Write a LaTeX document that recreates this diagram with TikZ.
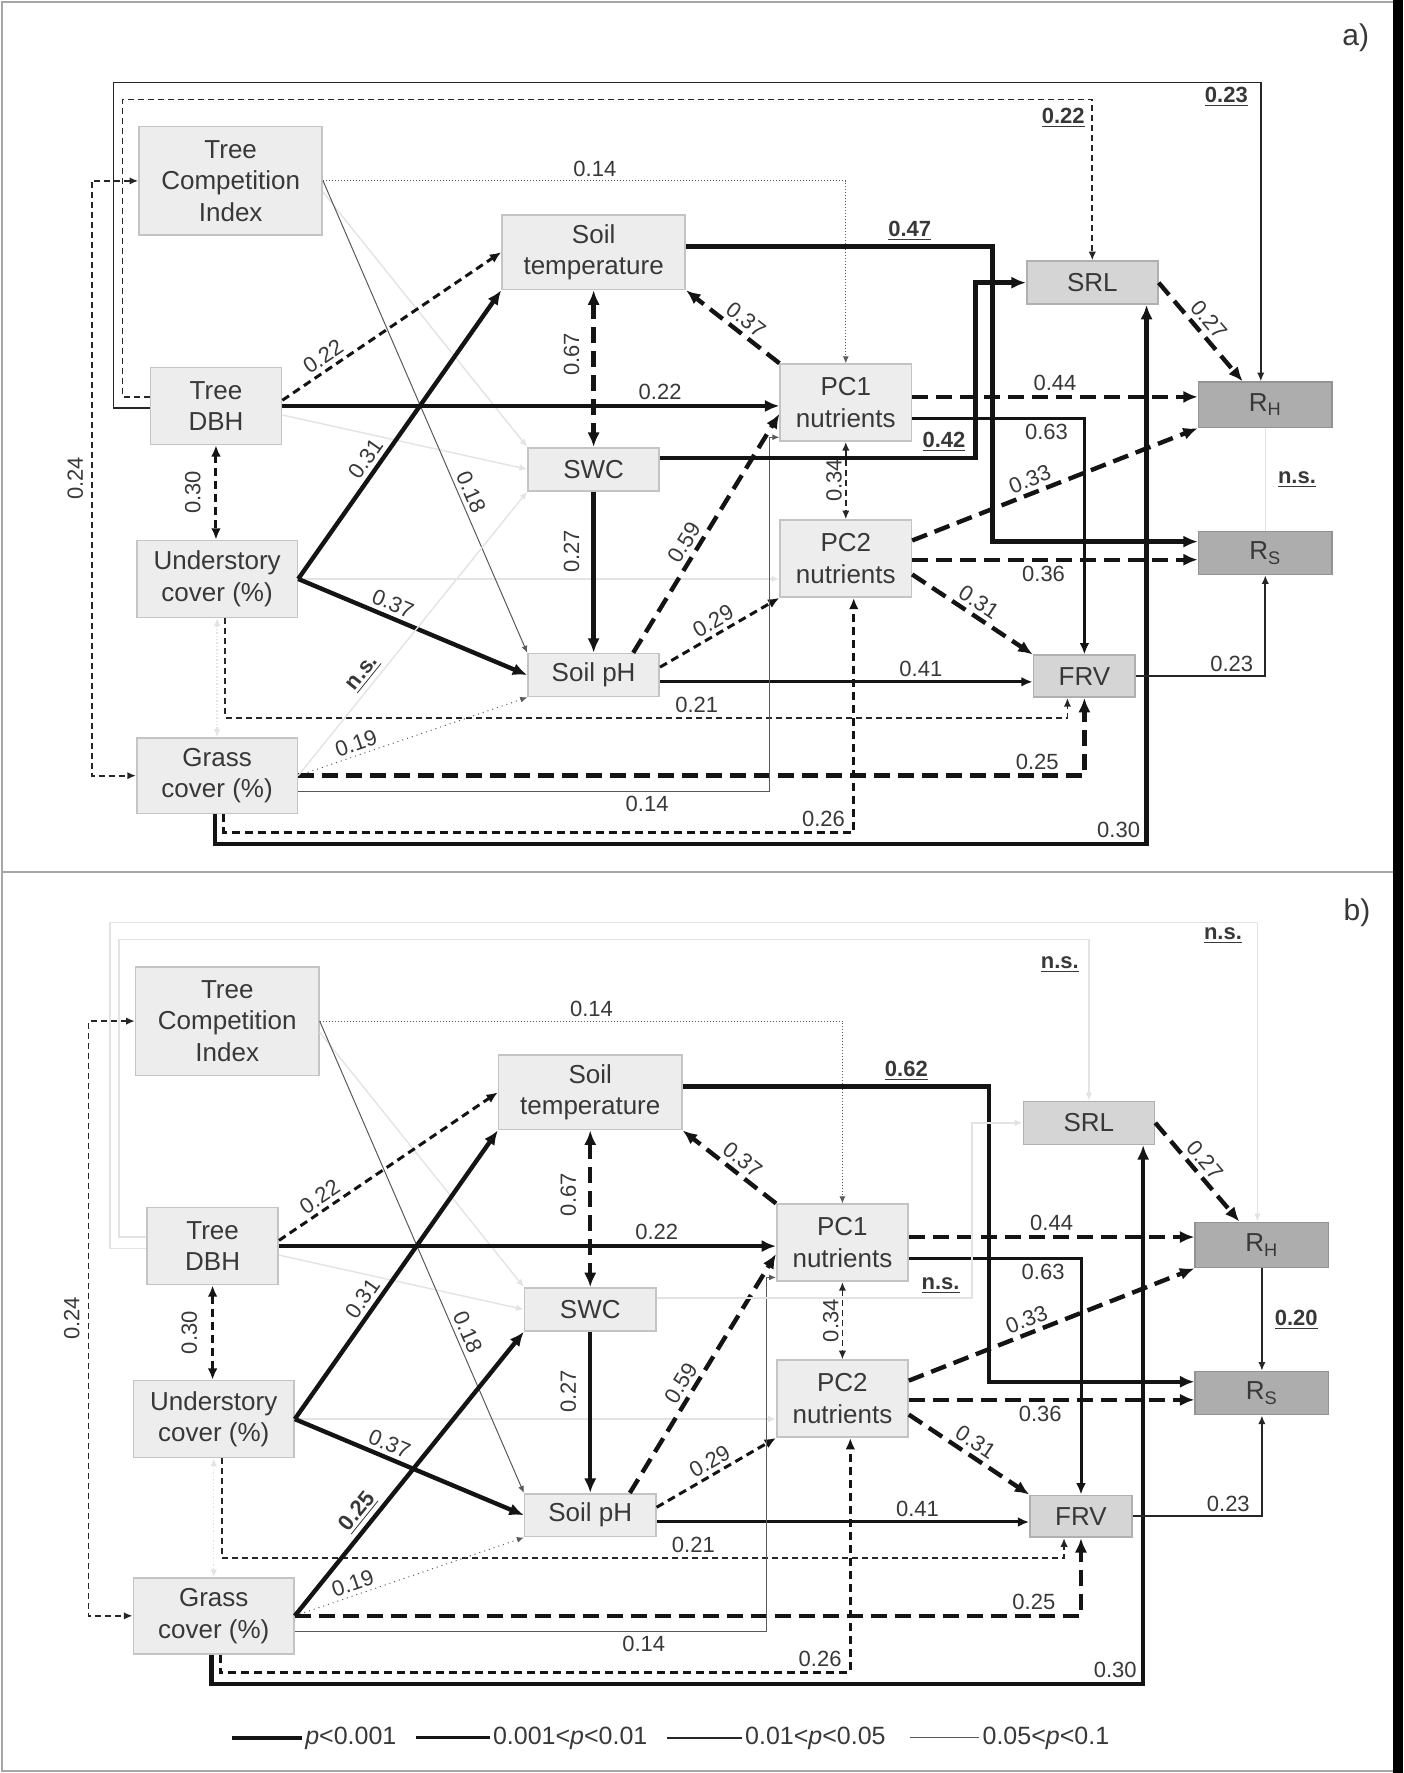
\documentclass[tikz,border=0pt]{standalone}
\usepackage{fontspec}
\setmainfont{Liberation Sans}
\usetikzlibrary{arrows.meta,calc}

\definecolor{boxlight}{HTML}{EDEDED}
\definecolor{boxmid}{HTML}{D5D5D5}
\definecolor{boxdark}{HTML}{ADADAD}
\definecolor{boxline}{HTML}{C4C4C4}
\definecolor{textgray}{HTML}{383838}
\definecolor{faint}{HTML}{E3E3E3}

\newcommand{\sg}[1]{\underline{\textbf{#1}}}

\tikzset{
  >={Latex[length=2.4pt 2.2,width=2pt 1.9]},
  var/.style={draw=boxline, line width=0.8pt, fill=boxlight, text=textgray,
    align=center, inner sep=0pt, font=\fontsize{13}{15.8}\selectfont},
  root/.style={fill=boxmid, draw=boxline!90!black},
  resp/.style={fill=boxdark, draw=boxdark!85!black},
  sz/.style 2 args={minimum width=#1*0.5653pt, minimum height=#2*0.5653pt},
  lab/.style={text=textgray, inner sep=2pt, font=\fontsize{11}{13}\selectfont},
  vlab/.style={lab, rotate=90, anchor=south, inner sep=#1},
  legtxt/.style={text=textgray, inner sep=1.5pt, font=\fontsize{12.5}{14}\selectfont},
  w1/.style={line width=2.2pt, draw=black!92},
  w2/.style={line width=1.5pt, draw=black!92},
  w3/.style={line width=0.9pt, draw=black!85},
  w4/.style={line width=0.5pt, draw=black!65},
  ns/.style={line width=0.7pt, draw=faint},
  dsh1/.style={dash pattern=on 8pt off 4pt},
  dsh2/.style={dash pattern=on 4pt off 2.5pt},
  dsh3/.style={dash pattern=on 3pt off 2pt},
}

% paths shared by both panels, #1 = soil temperature -> R_S
\newcommand{\sempaths}[1]{%
% variables
\node[var, sz={162}{96}] (tci) at (204,160) {Tree\\Competition\\Index};
\node[var, sz={162}{66}] (stemp) at (525,223) {Soil\\temperature};
\node[var, sz={116}{68}] (dbh) at (191,359) {Tree\\DBH};
\node[var, sz={116}{38}] (swc) at (525,415) {SWC};
\node[var, sz={116}{68}] (pc1) at (748,356) {PC1\\nutrients};
\node[var, sz={142}{68}] (und) at (192,512) {Understory\\cover (\%)};
\node[var, sz={116}{68}] (pc2) at (748,494) {PC2\\nutrients};
\node[var, sz={116}{38}] (ph) at (525,597) {Soil pH};
\node[var, sz={142}{67}] (grass) at (192,686) {Grass\\cover (\%)};
\node[var, root, sz={116}{38}] (srl) at (966,250) {SRL};
\node[var, root, sz={90}{37}] (frv) at (959,598) {FRV};
\node[var, resp, sz={118}{40}] (rh) at (1119,358) {R\textsubscript{H}};
\node[var, resp, sz={118}{38}] (rs) at (1119,489) {R\textsubscript{S}};
% faint paths
\draw[ns, ->] ($(tci.east)+(0,10)$) -- (swc.north west);
\draw[ns, ->] ($(dbh.east)+(0,8)$) -- (swc.west);
\draw[ns, ->] (und.east) -- (und.east -| pc2.west);
\draw[ns, densely dotted, <->] (und.south) -- (grass.north);
% correlations
\draw[w3, dsh3, <->] (tci.west) -- ++(-41,0) |- node[pos=0.25, vlab=4pt]{0.24} (grass.west);
\draw[w2, dsh2, <->] (dbh.south) -- node[vlab=7pt]{0.30} (dbh.south |- und.north);
\draw[w1, dsh1, <->] (stemp.south) -- node[pos=0.41, vlab=6pt]{0.67} (swc.north);
\draw[w3, dsh3, <->] (pc1.south) -- node[vlab=1.5pt]{0.34} (pc2.north);
% stand and understory effects
\draw[w4, densely dotted, ->] (tci.east) -| node[pos=0.26, lab, above]{0.14} (pc1.north);
\draw[w4, ->] (tci.east) -- node[pos=0.67, lab, above, sloped]{0.18} (ph.north west);
\draw[w2, dsh2, ->] ($(dbh.east)+(0,-5)$) -- node[pos=0.22, lab, above, sloped]{0.22} (stemp.west);
\draw[w1, ->] (dbh.east) -- node[pos=0.76, lab, above]{0.22} (dbh.east -| pc1.west);
\draw[w1, ->] (und.east) -- node[pos=0.39, lab, above, sloped]{0.31} (stemp.south west);
\draw[w1, ->] (und.east) -- node[pos=0.39, lab, above, sloped]{0.37} (ph.west);
% soil effects
\draw[w1, ->] (swc.south) -- node[pos=0.37, vlab=6pt]{0.27} (ph.north);
\draw[w1, dsh1, ->] ($(ph.north)+(35,0)$) -- node[pos=0.43, lab, above, sloped]{0.59} ($(pc1.west)+(0,10)$);
\draw[w2, dsh2, ->] ($(ph.east)+(0,-7)$) -- node[pos=0.5, lab, above, sloped]{0.29} (pc2.south west);
\draw[w1, dsh1, ->] (pc1.north west) -- node[pos=0.45, lab, above, sloped]{0.37} (stemp.south east);
\draw[w1, ->] ($(stemp.east)+(0,-5)$) -- node[pos=0.73, lab, above]{\sg{#1}} ++(271,0) |- ($(rs.west)+(0,-10)$);
\draw[w1, dsh1, ->] ($(pc1.east)+(0,-5)$) -- node[pos=0.5, lab, above]{0.44} ($(rh.west)+(0,-7)$);
\draw[w2, ->] ($(pc1.east)+(0,14)$) -| node[pos=0.39, lab, below]{0.63} (frv.north);
\draw[w1, dsh1, ->] ($(pc2.east)+(0,-16)$) -- node[pos=0.43, lab, above, sloped]{0.33} (rh.south west);
\draw[w1, dsh1, ->] ($(pc2.east)+(0,1)$) -- node[pos=0.46, lab, below]{0.36} ($(rs.west)+(0,6)$);
\draw[w1, dsh1, ->] ($(pc2.east)+(0,14)$) -- node[pos=0.49, lab, above, sloped]{0.31} (frv.north west);
\draw[w2, ->] ($(ph.east)+(0,6)$) -- node[pos=0.7, lab, above]{0.41} ($(frv.west)+(0,5)$);
% long paths below
\draw[w3, dsh3, ->] ($(und.south)+(7,0)$) -- ++(0,88) -| node[pos=0.28, lab, above]{0.21} ($(frv.south)+(-15,0)$);
\draw[w4, dotted, ->] (grass.east) -- node[pos=0.27, lab, above, sloped]{0.19} (ph.south west);
\draw[w1, dsh1, ->] (grass.east) -| node[pos=0.47, lab, above]{0.25} (frv.south);
\draw[w4, ->] ($(grass.east)+(0,14)$) -- node[pos=0.74, lab, below]{0.14} ++(417,0) |- ($(pc1.south west)+(0,-4)$);
\draw[w2, dsh2, ->] ($(grass.south)+(6,0)$) -- ++(0,16) -| node[pos=0.476, lab, above]{0.26} ($(pc2.south)+(7,0)$);
\draw[w1, ->] ($(grass.south)+(-2,0)$) -- ++(0,26) -| node[pos=0.485, lab, above]{0.30} ($(srl.south)+(48,0)$);
% roots and respiration
\draw[w3, ->] (frv.east) -| node[pos=0.37, lab, above]{0.23} (rs.south);
\draw[w1, dsh1, ->] (srl.east) -- node[pos=0.47, lab, above, sloped]{0.27} ($(rh.north)+(-20,0)$);
}

\begin{document}
\begin{tikzpicture}[x=0.5653pt, y=-0.5653pt]
\useasboundingbox (0,0) rectangle (1241,1568);

% frame
\draw[gray!70, line width=0.8pt] (2,2) rectangle (1236,1566);
\draw[gray!70, line width=0.8pt] (2,771) -- (1236,771);
\fill[black] (1232,0) rectangle (1241,1568);

% ---------- a) ----------
\begin{scope}[name prefix=a-]
\node[font=\fontsize{15}{17}\selectfont, text=textgray] (tag) at (1199,33) {a)};
\sempaths{0.47}
\draw[w3, ->] ($(dbh.west)+(0,2)$) -- ++(-32,0) -- ++(0,-288) -| node[pos=0.485, lab, below]{\sg{0.23}} ($(rh.north)+(-4,0)$);
\draw[w3, dsh3, ->] ($(dbh.west)+(0,-8)$) -- ++(-24,0) -- ++(0,-263) -| node[pos=0.485, lab, below, yshift=-2pt]{\sg{0.22}} (srl.north);
\draw[w1, ->] ($(swc.east)+(0,-10)$) -- node[pos=0.9, lab, above]{\sg{0.42}} ++(279,0) |- (srl.west);
\draw[ns] (rh.south) -- node[lab, right, xshift=4pt]{\sg{n.s.}} (rs.north);
\draw[ns, ->] (grass.east) -- node[pos=0.33, lab, above, sloped]{\sg{n.s.}} (swc.south west);
\end{scope}

% ---------- b) ----------
\begin{scope}[name prefix=b-, shift={(-3,743)}]
\node[font=\fontsize{15}{17}\selectfont, text=textgray] (tag) at (1203,64) {b)};
\sempaths{0.62}
\draw[ns, ->] ($(dbh.west)+(0,2)$) -- ++(-32,0) -- ++(0,-288) -| node[pos=0.485, lab, below]{\sg{n.s.}} ($(rh.north)+(-4,0)$);
\draw[ns, ->] ($(dbh.west)+(0,-8)$) -- ++(-24,0) -- ++(0,-263) -| node[pos=0.485, lab, below, yshift=-6pt]{\sg{n.s.}} (srl.north);
\draw[ns, ->] ($(swc.east)+(0,-10)$) -- node[pos=0.9, lab, above]{\sg{n.s.}} ++(279,0) |- (srl.west);
\draw[w3, ->] (rh.south) -- node[lab, right, xshift=4pt]{\sg{0.20}} (rs.north);
\draw[w1, ->] (grass.east) -- node[pos=0.33, lab, above, sloped]{\sg{0.25}} (swc.south west);
\end{scope}

% legend
\node[legtxt, anchor=west] (leg1) at (267,1537) {\textit{p}<0.001};
\node[legtxt, anchor=west] (leg2) at (433,1537) {0.001<\textit{p}<0.01};
\node[legtxt, anchor=west] (leg3) at (656,1537) {0.01<\textit{p}<0.05};
\node[legtxt, anchor=west] (leg4) at (866,1537) {0.05<\textit{p}<0.1};
\draw[w1] ($(leg1.west)+(-62,0)$) -- (leg1.west);
\draw[w2] ($(leg2.west)+(-65,0)$) -- (leg2.west);
\draw[w3] ($(leg3.west)+(-66,0)$) -- (leg3.west);
\draw[w4] ($(leg4.west)+(-61,0)$) -- (leg4.west);
\end{tikzpicture}
\end{document}
